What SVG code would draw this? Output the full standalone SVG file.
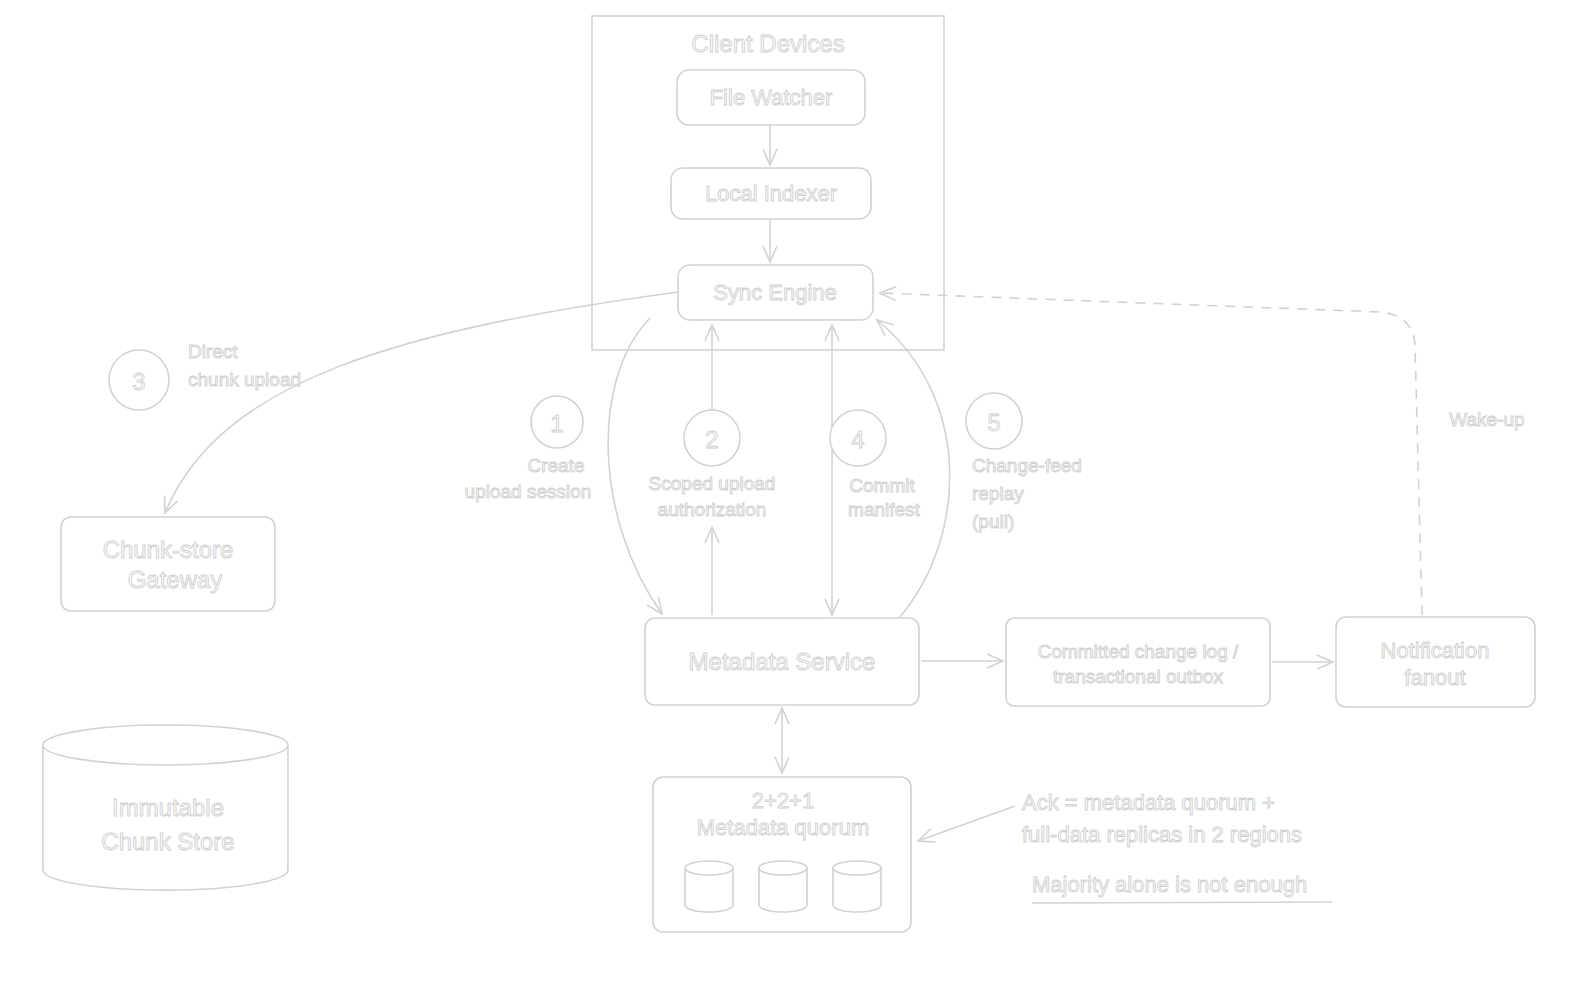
<svg xmlns="http://www.w3.org/2000/svg" width="1589" height="990" viewBox="0 0 1589 990">
<defs>
<style>
.b{fill:#fff;stroke:#d2d2d2;stroke-width:1.6}
.c{fill:none;stroke:#d2d2d2;stroke-width:1.6}
.d{fill:none;stroke:#d2d2d2;stroke-width:1.6;stroke-dasharray:10 8}
text{font-family:"Comic Sans MS","Liberation Sans",sans-serif;fill:#fff;stroke:#cfcfcf;stroke-width:0.9;text-anchor:middle}
.s{font-size:19px}.m{font-size:22px}.l{font-size:24px}
.lt{text-anchor:start}
</style>
<marker id="a" viewBox="0 0 20 20" refX="18" refY="10" markerWidth="20" markerHeight="20" markerUnits="userSpaceOnUse" orient="auto-start-reverse"><path d="M2,3 L18,10 L2,17" fill="none" stroke="#d2d2d2" stroke-width="1.6"/></marker>
</defs>
<rect width="1589" height="990" fill="#fff"/>
<g id="client-devices"><rect class="b" x="592" y="16" width="352" height="334"/><text class="l" x="768" y="52">Client Devices</text></g>
<g id="file-watcher"><rect class="b" x="677" y="70" width="188" height="55" rx="12"/><text class="m" x="771" y="105">File Watcher</text></g>
<g id="local-indexer"><rect class="b" x="671" y="168" width="200" height="51" rx="12"/><text class="m" x="771" y="201">Local Indexer</text></g>
<g id="sync-engine"><rect class="b" x="678" y="265" width="195" height="55" rx="12"/><text class="m" x="775" y="300">Sync Engine</text></g>
<g id="metadata-service"><rect class="b" x="645" y="618" width="274" height="87" rx="10"/><text class="l" x="782" y="670">Metadata Service</text></g>
<g id="change-log"><rect class="b" x="1006" y="618" width="264" height="88" rx="8"/><text class="s" x="1138" y="658">Committed change log /</text><text class="s" x="1138" y="683">transactional outbox</text></g>
<g id="notification-fanout"><rect class="b" x="1336" y="617" width="199" height="90" rx="10"/><text class="m" x="1435" y="658">Notification</text><text class="m" x="1435" y="685">fanout</text></g>
<g id="chunk-gateway"><rect class="b" x="61" y="517" width="214" height="94" rx="10"/><text class="l" x="168" y="558">Chunk-store</text><text class="l" x="175" y="588">Gateway</text></g>
<g id="chunk-store"><path class="b" d="M43,745 L43,870 A122,20 0 0 0 288,870 L288,745"/><ellipse class="b" cx="165.5" cy="745" rx="122.5" ry="20"/><text class="l" x="168" y="816">Immutable</text><text class="l" x="168" y="850">Chunk Store</text></g>
<g id="metadata-quorum"><rect class="b" x="653" y="777" width="258" height="155" rx="10"/><text class="m" x="783" y="808">2+2+1</text><text class="m" x="783" y="835">Metadata quorum</text>
<path class="b" d="M685,868 L685,905 A24,7 0 0 0 733,905 L733,868"/><ellipse class="b" cx="709" cy="868" rx="24" ry="7"/>
<path class="b" d="M759,868 L759,905 A24,7 0 0 0 807,905 L807,868"/><ellipse class="b" cx="783" cy="868" rx="24" ry="7"/>
<path class="b" d="M833,868 L833,905 A24,7 0 0 0 881,905 L881,868"/><ellipse class="b" cx="857" cy="868" rx="24" ry="7"/></g>
<g id="connectors">
<path class="c" marker-end="url(#a)" d="M770,125 L770,165"/>
<path class="c" marker-end="url(#a)" d="M770,219 L770,262"/>
<path class="c" marker-end="url(#a)" d="M678,292 C400,330 220,380 165,513"/>
<path class="c" marker-end="url(#a)" d="M650,318 C590,380 595,520 662,614"/>
<path class="c" marker-end="url(#a)" d="M712,615 L712,527"/>
<path class="c" marker-end="url(#a)" d="M712,410 L712,325"/>
<path class="c" marker-start="url(#a)" marker-end="url(#a)" d="M832,325 L832,615"/>
<path class="c" marker-end="url(#a)" d="M900,617 C965,540 975,400 877,320"/>
<path class="c" marker-end="url(#a)" d="M921,661 L1003,661"/>
<path class="c" marker-end="url(#a)" d="M1272,662 L1333,662"/>
<path class="d" marker-end="url(#a)" d="M1422,615 L1415,345 Q1413,315 1380,312 L880,293"/>
<path class="c" marker-start="url(#a)" marker-end="url(#a)" d="M782,708 L782,773"/>
<path class="c" marker-end="url(#a)" d="M1015,806 L918,841"/>
</g>
<g id="labels">
<circle class="b" cx="139" cy="380" r="30"/><text class="l" x="139" y="390">3</text>
<text class="s lt" x="188" y="358">Direct</text><text class="s lt" x="188" y="386">chunk upload</text>
<circle class="b" cx="557" cy="422" r="26"/><text class="l" x="557" y="432">1</text>
<text class="s" x="556" y="472">Create</text><text class="s" x="528" y="498">upload session</text>
<circle class="b" cx="712" cy="438" r="28"/><text class="l" x="712" y="448">2</text>
<text class="s" x="712" y="490">Scoped upload</text><text class="s" x="712" y="516">authorization</text>
<circle class="b" cx="858" cy="438" r="28"/><text class="l" x="858" y="448">4</text>
<text class="s" x="882" y="492">Commit</text><text class="s" x="884" y="516">manifest</text>
<circle class="b" cx="994" cy="421" r="28"/><text class="l" x="994" y="431">5</text>
<text class="s lt" x="972" y="472">Change-feed</text><text class="s lt" x="972" y="500">replay</text><text class="s lt" x="972" y="528">(pull)</text>
<text class="s" x="1487" y="426">Wake-up</text>
<text class="m lt" x="1022" y="810">Ack = metadata quorum +</text>
<text class="m lt" x="1022" y="842">full-data replicas in 2 regions</text>
<text class="m lt" x="1032" y="892">Majority alone is not enough</text>
<path class="c" d="M1032,903 L1332,902"/>
</g>
</svg>
